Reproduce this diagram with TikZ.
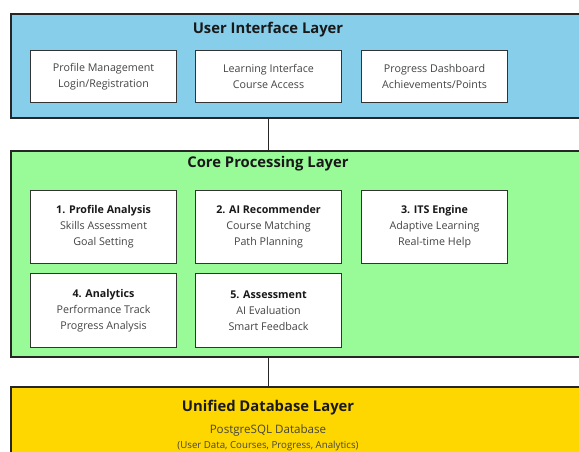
\documentclass[tikz,border=0pt]{standalone}
\usepackage{fontspec}
\setmainfont{Open Sans}
\usepackage{tikz}

\definecolor{uiblue}{HTML}{87CEEB}
\definecolor{coregreen}{HTML}{98FB98}
\definecolor{dbgold}{HTML}{FFD700}
\definecolor{subgray}{HTML}{444444}

\tikzset{
  layer/.style={draw=black!85,line width=1.6pt,anchor=north west,minimum width=600pt},
  layertitle/.style={font=\fontsize{14.8}{16}\selectfont\bfseries,text=black!90},
  module/.style={draw=black!80,fill=white,line width=1.1pt,anchor=north west,
    minimum width=146pt,align=center,text=subgray,font=\fontsize{10.7}{16}\selectfont},
  link/.style={line width=1.6pt,black!85},
}
\newcommand{\modtitle}[1]{{\color{black!90}\bfseries #1}}

\begin{document}
\begin{tikzpicture}[x=1pt,y=-1pt]
	\useasboundingbox (0,0) rectangle (579,452);

	% layers
	\node[layer,fill=uiblue,minimum height=104pt] (ui) at (10,13) {};
	\node[layer,fill=coregreen,minimum height=206pt] (core) at (10,150) {};
	\node[layer,fill=dbgold,minimum height=100pt] (db) at (10,386) {};

	\node[layertitle] (uititle) at (268,30) {User Interface Layer};
	\node[layertitle] (coretitle) at (268,164) {Core Processing Layer};
	\node[layertitle] (dbtitle) at (268,408) {Unified Database Layer};

	% user interface modules
	\node[module,minimum height=52pt] (profile) at (30,50) {Profile Management\\Login/Registration};
	\node[module,minimum height=52pt] (learning) at (195,50) {Learning Interface\\Course Access};
	\node[module,minimum height=52pt] (dashboard) at (361,50) {Progress Dashboard\\Achievements/Points};

	% core modules
	\node[module,minimum height=73pt] (analysis) at (30,190) {\modtitle{1. Profile Analysis}\\Skills Assessment\\Goal Setting};
	\node[module,minimum height=73pt] (recommender) at (195,190) {\modtitle{2. AI Recommender}\\Course Matching\\Path Planning};
	\node[module,minimum height=73pt] (its) at (361,190) {\modtitle{3. ITS Engine}\\Adaptive Learning\\Real-time Help};
	\node[module,minimum height=74pt] (analytics) at (30,273) {\modtitle{4. Analytics}\\Performance Track\\Progress Analysis};
	\node[module,minimum height=74pt] (assessment) at (195,273) {\modtitle{5. Assessment}\\AI Evaluation\\Smart Feedback};

	% database
	\node[text=subgray,font=\fontsize{11.6}{14}\selectfont] (postgres) at (268,430) {PostgreSQL Database};
	\node[text=subgray,font=\fontsize{9.7}{11}\selectfont] (dbcontent) at (268,446) {(User Data, Courses, Progress, Analytics)};

	% connections
	\draw[link] (learning.center |- ui.south) -- (learning.center |- core.north);
	\draw[link] (learning.center |- core.south) -- (learning.center |- db.north);
\end{tikzpicture}
\end{document}
